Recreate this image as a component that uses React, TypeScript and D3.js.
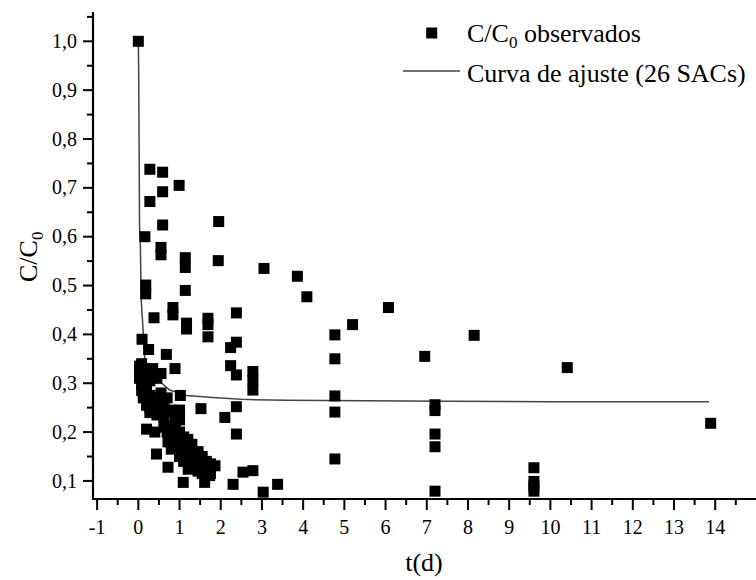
import React from "react";
import * as d3 from "d3";

// Observed C/C0 values (t in days)
const obsT = [
  0, 0.28, 0.59, 0.99, 0.59, 0.28, 0.59, 1.95, 0.16, 0.55,
  0.55, 1.14, 1.14, 1.94, 3.05, 0.18, 0.18, 1.14, 3.86, 4.09,
  0.38, 0.84, 0.84, 1.17, 1.17, 1.69, 1.69, 1.69, 2.38, 2.38,
  2.24, 2.24, 2.38, 2.78, 2.78, 2.78, 0.68, 0.89, 1.02, 1.52,
  2.10, 2.38, 2.38, 2.54, 2.78, 2.30, 3.03, 3.38, 1.09, 1.61,
  4.77, 4.77, 4.77, 4.77, 4.77, 5.20, 6.07, 6.95, 8.15, 7.20,
  7.20, 7.20, 7.20, 7.20, 10.41, 13.89, 9.60, 9.60, 9.60, 9.60,
  0.09, 0.25,
  0.20, 0.40, 0.44, 0.72, 0.72, 1.21, 1.86, 1.73,
  0.03, 0.03, 0.03, 0.08, 0.08, 0.08, 0.12, 0.12,
  0.20, 0.20, 0.20, 0.28, 0.28, 0.28, 0.28, 0.35, 0.35, 0.35,
  0.45, 0.45, 0.45, 0.45, 0.55, 0.55, 0.55, 0.62, 0.62, 0.62,
  0.70, 0.70, 0.70, 0.80, 0.80, 0.80, 0.80, 0.90, 0.90, 0.90,
  1.00, 1.00, 1.00, 1.00, 1.00, 1.10, 1.10, 1.10, 1.20, 1.20, 1.20,
  1.30, 1.30, 1.30, 1.45, 1.45, 1.45, 1.55, 1.55, 1.55, 1.65, 1.65,
  1.75, 1.75,
];
const obsC = [
  1.0, 0.738, 0.732, 0.705, 0.692, 0.672, 0.624, 0.631, 0.600, 0.578,
  0.563, 0.557, 0.537, 0.551, 0.535, 0.501, 0.483, 0.490, 0.519, 0.477,
  0.434, 0.455, 0.440, 0.423, 0.411, 0.433, 0.420, 0.395, 0.444, 0.384,
  0.373, 0.336, 0.317, 0.324, 0.306, 0.286, 0.359, 0.330, 0.275, 0.248,
  0.230, 0.252, 0.196, 0.118, 0.121, 0.093, 0.077, 0.093, 0.097, 0.097,
  0.399, 0.350, 0.274, 0.241, 0.145, 0.420, 0.455, 0.355, 0.398, 0.256,
  0.244, 0.196, 0.170, 0.079, 0.332, 0.218, 0.127, 0.099, 0.089, 0.079,
  0.390, 0.369,
  0.206, 0.200, 0.155, 0.128, 0.180, 0.124, 0.131, 0.111,
  0.335, 0.325, 0.310, 0.340, 0.300, 0.285, 0.270, 0.330,
  0.320, 0.290, 0.255, 0.305, 0.275, 0.250, 0.240, 0.330, 0.260, 0.240,
  0.310, 0.270, 0.250, 0.235, 0.320, 0.280, 0.255, 0.250, 0.230, 0.210,
  0.270, 0.240, 0.200, 0.245, 0.215, 0.190, 0.165, 0.235, 0.205, 0.180,
  0.245, 0.225, 0.200, 0.170, 0.150, 0.190, 0.160, 0.140, 0.185, 0.165, 0.145,
  0.175, 0.155, 0.135, 0.160, 0.140, 0.120, 0.150, 0.130, 0.115, 0.140, 0.120,
  0.135, 0.115,
];

// Fitted curve (26 SACs)
const fitT = [0, 0.01, 0.03, 0.05, 0.07, 0.1, 0.16, 0.32, 0.5, 0.76, 1.17, 1.8, 2.5, 3.6, 5.5, 7.5, 10, 13.85];
const fitC = [1.0, 0.925, 0.62, 0.58, 0.47, 0.43, 0.345, 0.325, 0.305, 0.286, 0.275, 0.271, 0.267, 0.265, 0.264, 0.263, 0.262, 0.262];

const xTicks = [-1, 0, 1, 2, 3, 4, 5, 6, 7, 8, 9, 10, 11, 12, 13, 14];
const xMinor = d3.range(-0.5, 15, 1);
const yTicks = [0.1, 0.2, 0.3, 0.4, 0.5, 0.6, 0.7, 0.8, 0.9, 1.0];
const yMinor = [0.15, 0.25, 0.35, 0.45, 0.55, 0.65, 0.75, 0.85, 0.95, 1.05];

const legendObs = "observados";
const legendFit = "Curva de ajuste (26 SACs)";

const W = 756;
const H = 580;
const FONT = "'Liberation Serif', 'Times New Roman', serif";

export default function App() {
  const x = d3.scaleLinear().domain([-1.1, 14.99]).range([93, 756]);
  const y = d3.scaleLinear().domain([0.063, 1.06]).range([499, 12]);
  const fmtY = (v: number) => d3.format(".1f")(v).replace(".", ",");
  const line = d3
    .line<number>()
    .x((_, i) => x(fitT[i]))
    .y((d) => y(d));
  const sq = 11;
  const x0 = x.range()[0];
  const yb = y.range()[0];

  return (
    <svg
      width={W}
      height={H}
      style={{ position: "absolute", left: 0, top: 0, background: "#fff" }}
      fontFamily={FONT}
    >
      <rect width={W} height={H} fill="#fff" />
      {/* fit curve */}
      <path d={line(fitC) || ""} fill="none" stroke="#444" strokeWidth={1.5} />
      {/* points */}
      {obsT.map((t, i) => (
        <rect
          key={i}
          x={x(t) - sq / 2}
          y={y(obsC[i]) - sq / 2}
          width={sq}
          height={sq}
          fill="#000"
        />
      ))}
      {/* axes */}
      <line x1={x0} x2={x0} y1={12} y2={yb + 1} stroke="#000" strokeWidth={2.2} />
      <line x1={x0 - 1} x2={W} y1={yb} y2={yb} stroke="#000" strokeWidth={2.2} />
      {yTicks.map((v) => (
        <g key={"y" + v}>
          <line x1={x0 - 10} x2={x0} y1={y(v)} y2={y(v)} stroke="#000" strokeWidth={2} />
          <text
            x={x0 - 16}
            y={y(v)}
            dy="0.33em"
            textAnchor="end"
            fontSize={20}
            fill="#000"
          >
            {fmtY(v)}
          </text>
        </g>
      ))}
      {yMinor.map((v) => (
        <line key={"ym" + v} x1={x0 - 6} x2={x0} y1={y(v)} y2={y(v)} stroke="#000" strokeWidth={2} />
      ))}
      {xTicks.map((v) => (
        <g key={"x" + v}>
          <line x1={x(v)} x2={x(v)} y1={yb} y2={yb + 11} stroke="#000" strokeWidth={2} />
          <text x={x(v)} y={534} textAnchor="middle" fontSize={20} fill="#000">
            {v}
          </text>
        </g>
      ))}
      {xMinor.map((v) => (
        <line key={"xm" + v} x1={x(v)} x2={x(v)} y1={yb} y2={yb + 6} stroke="#000" strokeWidth={2} />
      ))}
      {/* axis titles */}
      <text x={424} y={571} textAnchor="middle" fontSize={26} fill="#000">
        t(d)
      </text>
      <text
        transform="translate(37,282) rotate(-90)"
        textAnchor="start"
        fontSize={26}
        fill="#000"
      >
        C/C
        <tspan fontSize={17} dy={6}>0</tspan>
      </text>
      {/* legend */}
      <rect x={431.7 - sq / 2} y={33 - sq / 2} width={sq} height={sq} fill="#000" />
      <text x={467} y={42} fontSize={26} fill="#000">
        C/C
        <tspan fontSize={17} dy={6}>0</tspan>
        <tspan dy={-6}> {legendObs}</tspan>
      </text>
      <line x1={403} x2={460} y1={71} y2={71} stroke="#444" strokeWidth={1.5} />
      <text x={467} y={82} fontSize={26} fill="#000">
        {legendFit}
      </text>
    </svg>
  );
}
